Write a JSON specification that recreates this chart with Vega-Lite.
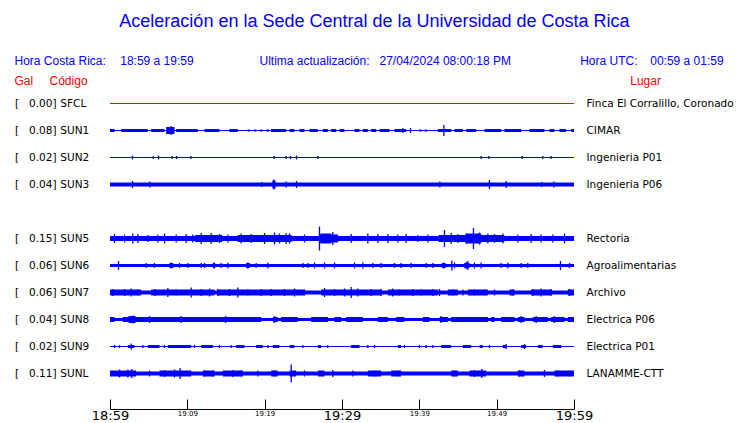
{
  "$schema": "https://vega.github.io/schema/vega-lite/v6.json",
  "width": 464,
  "height": 297,
  "autosize": {"type": "none"},
  "padding": {"left": 110, "top": 90, "right": 166, "bottom": 36},
  "background": "white",
  "config": {"view": {"stroke": null}},
  "datasets": {
    "st": [
      {"s": "SFCL", "g": 0.00, "lugar": "Finca El Corralillo, Coronado"},
      {"s": "SUN1", "g": 0.08, "lugar": "CIMAR"},
      {"s": "SUN2", "g": 0.02, "lugar": "Ingenieria P01"},
      {"s": "SUN3", "g": 0.04, "lugar": "Ingenieria P06"},
      {"s": "SUN5", "g": 0.15, "lugar": "Rectoria"},
      {"s": "SUN6", "g": 0.06, "lugar": "Agroalimentarias"},
      {"s": "SUN7", "g": 0.06, "lugar": "Archivo"},
      {"s": "SUN8", "g": 0.04, "lugar": "Electrica P06"},
      {"s": "SUN9", "g": 0.02, "lugar": "Electrica P01"},
      {"s": "SUNL", "g": 0.11, "lugar": "LANAMME-CTT"}
    ],
    "seg": [
      {"s": "SFCL", "t0": 0, "t1": 60, "a": 1},
      {"s": "SUN1", "t0": 0, "t1": 60, "a": 1},
      {"s": "SUN2", "t0": 0, "t1": 60, "a": 1},
      {"s": "SUN3", "t0": 0, "t1": 60, "a": 4},
      {"s": "SUN5", "t0": 0, "t1": 60, "a": 5},
      {"s": "SUN6", "t0": 0, "t1": 60, "a": 3},
      {"s": "SUN7", "t0": 0, "t1": 60, "a": 4},
      {"s": "SUN8", "t0": 0, "t1": 60, "a": 3},
      {"s": "SUN9", "t0": 0, "t1": 60, "a": 1},
      {"s": "SUNL", "t0": 0, "t1": 60, "a": 4},

      {"s": "SUN1", "t0": 0, "t1": 0.58, "a": 3},
      {"s": "SUN1", "t0": 1.44, "t1": 4.89, "a": 3},
      {"s": "SUN1", "t0": 5.32, "t1": 7.05, "a": 3},
      {"s": "SUN1", "t0": 7.26, "t1": 8.34, "a": 7},
      {"s": "SUN1", "t0": 8.56, "t1": 11.36, "a": 3},
      {"s": "SUN1", "t0": 12.22, "t1": 14.16, "a": 3},
      {"s": "SUN1", "t0": 15.45, "t1": 16.53, "a": 3},
      {"s": "SUN1", "t0": 17.8, "t1": 18.1, "a": 2},
      {"s": "SUN1", "t0": 18.6, "t1": 18.9, "a": 2},
      {"s": "SUN1", "t0": 19.4, "t1": 19.7, "a": 2},
      {"s": "SUN1", "t0": 20.2, "t1": 20.6, "a": 2},
      {"s": "SUN1", "t0": 20.84, "t1": 22.78, "a": 3},
      {"s": "SUN1", "t0": 23.21, "t1": 23.86, "a": 3},
      {"s": "SUN1", "t0": 24.5, "t1": 25.15, "a": 3},
      {"s": "SUN1", "t0": 25.8, "t1": 26.88, "a": 3},
      {"s": "SUN1", "t0": 27.52, "t1": 28.17, "a": 3},
      {"s": "SUN1", "t0": 28.6, "t1": 29.25, "a": 3},
      {"s": "SUN1", "t0": 29.68, "t1": 30.32, "a": 3},
      {"s": "SUN1", "t0": 31.62, "t1": 32.26, "a": 3},
      {"s": "SUN1", "t0": 32.69, "t1": 33.34, "a": 3},
      {"s": "SUN1", "t0": 33.77, "t1": 34.42, "a": 3},
      {"s": "SUN1", "t0": 34.85, "t1": 36.14, "a": 3},
      {"s": "SUN1", "t0": 36.79, "t1": 38.3, "a": 3},
      {"s": "SUN1", "t0": 40.0, "t1": 40.3, "a": 2},
      {"s": "SUN1", "t0": 40.7, "t1": 41.0, "a": 2},
      {"s": "SUN1", "t0": 42.39, "t1": 44.12, "a": 3},
      {"s": "SUN1", "t0": 44.55, "t1": 45.63, "a": 3},
      {"s": "SUN1", "t0": 46.06, "t1": 47.35, "a": 3},
      {"s": "SUN1", "t0": 48.43, "t1": 50.58, "a": 3},
      {"s": "SUN1", "t0": 51.01, "t1": 53.17, "a": 3},
      {"s": "SUN1", "t0": 54.24, "t1": 56.18, "a": 3},
      {"s": "SUN1", "t0": 56.83, "t1": 57.47, "a": 3},
      {"s": "SUN1", "t0": 58.12, "t1": 58.98, "a": 3},
      {"s": "SUN1", "t0": 59.63, "t1": 60, "a": 3},

      {"s": "SUN3", "t0": 21.0, "t1": 21.4, "a": 8},

      {"s": "SUN5", "t0": 11.0, "t1": 14.5, "a": 7},
      {"s": "SUN5", "t0": 16.5, "t1": 23.5, "a": 7},
      {"s": "SUN5", "t0": 27.0, "t1": 29.5, "a": 8},
      {"s": "SUN5", "t0": 27.2, "t1": 28.6, "a": 10},
      {"s": "SUN5", "t0": 42.5, "t1": 51.0, "a": 7},
      {"s": "SUN5", "t0": 46.0, "t1": 48.0, "a": 10},

      {"s": "SUN6", "t0": 7.7, "t1": 8.2, "a": 5},
      {"s": "SUN6", "t0": 13.3, "t1": 13.6, "a": 5},
      {"s": "SUN6", "t0": 17.6, "t1": 18.1, "a": 5},
      {"s": "SUN6", "t0": 42.9, "t1": 43.4, "a": 5},
      {"s": "SUN6", "t0": 45.8, "t1": 46.5, "a": 5},

      {"s": "SUN7", "t0": 0, "t1": 4.03, "a": 6},
      {"s": "SUN7", "t0": 5.32, "t1": 13.51, "a": 6},
      {"s": "SUN7", "t0": 13.94, "t1": 25.15, "a": 6},
      {"s": "SUN7", "t0": 27.31, "t1": 35.06, "a": 6},
      {"s": "SUN7", "t0": 35.93, "t1": 42.39, "a": 6},
      {"s": "SUN7", "t0": 43.69, "t1": 44.98, "a": 6},
      {"s": "SUN7", "t0": 46.27, "t1": 48.86, "a": 6},
      {"s": "SUN7", "t0": 51.66, "t1": 52.31, "a": 6},
      {"s": "SUN7", "t0": 54.46, "t1": 57.04, "a": 6},
      {"s": "SUN7", "t0": 59.2, "t1": 60, "a": 6},

      {"s": "SUN8", "t0": 0, "t1": 0.58, "a": 5},
      {"s": "SUN8", "t0": 1.66, "t1": 9.2, "a": 5},
      {"s": "SUN8", "t0": 2.4, "t1": 3.3, "a": 7},
      {"s": "SUN8", "t0": 9.2, "t1": 16.53, "a": 5},
      {"s": "SUN8", "t0": 16.53, "t1": 19.55, "a": 5},
      {"s": "SUN8", "t0": 21.06, "t1": 21.7, "a": 5},
      {"s": "SUN8", "t0": 22.13, "t1": 24.29, "a": 5},
      {"s": "SUN8", "t0": 26.01, "t1": 28.17, "a": 5},
      {"s": "SUN8", "t0": 29.03, "t1": 29.89, "a": 5},
      {"s": "SUN8", "t0": 30.54, "t1": 32.69, "a": 5},
      {"s": "SUN8", "t0": 34.63, "t1": 35.93, "a": 5},
      {"s": "SUN8", "t0": 37.0, "t1": 38.08, "a": 5},
      {"s": "SUN8", "t0": 40.45, "t1": 41.31, "a": 5},
      {"s": "SUN8", "t0": 42.61, "t1": 43.69, "a": 5},
      {"s": "SUN8", "t0": 44.12, "t1": 48.86, "a": 5},
      {"s": "SUN8", "t0": 49.29, "t1": 49.72, "a": 5},
      {"s": "SUN8", "t0": 50.58, "t1": 52.31, "a": 5},
      {"s": "SUN8", "t0": 52.74, "t1": 53.6, "a": 5},
      {"s": "SUN8", "t0": 54.68, "t1": 56.61, "a": 5},
      {"s": "SUN8", "t0": 57.04, "t1": 58.77, "a": 5},
      {"s": "SUN8", "t0": 59.2, "t1": 60, "a": 5},

      {"s": "SUN9", "t0": 2.31, "t1": 3.17, "a": 3},
      {"s": "SUN9", "t0": 4.89, "t1": 6.4, "a": 3},
      {"s": "SUN9", "t0": 7.48, "t1": 10.5, "a": 3},
      {"s": "SUN9", "t0": 11.79, "t1": 13.3, "a": 3},
      {"s": "SUN9", "t0": 16.31, "t1": 17.39, "a": 3},
      {"s": "SUN9", "t0": 18.9, "t1": 19.76, "a": 3},
      {"s": "SUN9", "t0": 21.06, "t1": 21.92, "a": 3},
      {"s": "SUN9", "t0": 23.21, "t1": 23.86, "a": 3},
      {"s": "SUN9", "t0": 26.88, "t1": 27.31, "a": 3},
      {"s": "SUN9", "t0": 31.19, "t1": 32.26, "a": 3},
      {"s": "SUN9", "t0": 37.22, "t1": 37.65, "a": 3},
      {"s": "SUN9", "t0": 42.82, "t1": 44.12, "a": 3},
      {"s": "SUN9", "t0": 45.63, "t1": 46.71, "a": 3},
      {"s": "SUN9", "t0": 47.78, "t1": 48.21, "a": 3},
      {"s": "SUN9", "t0": 50.8, "t1": 51.23, "a": 3},
      {"s": "SUN9", "t0": 53.17, "t1": 53.82, "a": 3},
      {"s": "SUN9", "t0": 55.32, "t1": 55.97, "a": 3},
      {"s": "SUN9", "t0": 57.26, "t1": 58.34, "a": 3},

      {"s": "SUNL", "t0": 0, "t1": 3.38, "a": 6},
      {"s": "SUNL", "t0": 6.4, "t1": 10.5, "a": 6},
      {"s": "SUNL", "t0": 12.0, "t1": 13.51, "a": 6},
      {"s": "SUNL", "t0": 14.59, "t1": 17.18, "a": 6},
      {"s": "SUNL", "t0": 20.84, "t1": 21.7, "a": 6},
      {"s": "SUNL", "t0": 23.21, "t1": 24.07, "a": 6},
      {"s": "SUNL", "t0": 26.88, "t1": 27.74, "a": 6},
      {"s": "SUNL", "t0": 33.34, "t1": 35.06, "a": 6},
      {"s": "SUNL", "t0": 36.36, "t1": 37.65, "a": 6},
      {"s": "SUNL", "t0": 44.12, "t1": 44.98, "a": 6},
      {"s": "SUNL", "t0": 46.49, "t1": 48.64, "a": 6},
      {"s": "SUNL", "t0": 52.74, "t1": 53.6, "a": 6},
      {"s": "SUNL", "t0": 57.47, "t1": 60, "a": 6}
    ],
    "spk": [
      {"s": "SUN1", "t": 7.9, "a": 9}, {"s": "SUN1", "t": 37.87, "a": 5}, {"s": "SUN1", "t": 38.86, "a": 5}, {"s": "SUN1", "t": 43.17, "a": 11},

      {"s": "SUN2", "t": 2.91, "a": 4}, {"s": "SUN2", "t": 5.58, "a": 3}, {"s": "SUN2", "t": 6.27, "a": 4}, {"s": "SUN2", "t": 8.04, "a": 3},
      {"s": "SUN2", "t": 8.6, "a": 3}, {"s": "SUN2", "t": 10.45, "a": 3}, {"s": "SUN2", "t": 21.23, "a": 3}, {"s": "SUN2", "t": 22.78, "a": 3},
      {"s": "SUN2", "t": 23.34, "a": 3}, {"s": "SUN2", "t": 24.12, "a": 4}, {"s": "SUN2", "t": 26.88, "a": 3}, {"s": "SUN2", "t": 48.0, "a": 3},
      {"s": "SUN2", "t": 48.99, "a": 3}, {"s": "SUN2", "t": 53.3, "a": 3}, {"s": "SUN2", "t": 55.96, "a": 3}, {"s": "SUN2", "t": 57.04, "a": 3},

      {"s": "SUN3", "t": 2.91, "a": 7}, {"s": "SUN3", "t": 5.15, "a": 6}, {"s": "SUN3", "t": 19.63, "a": 5}, {"s": "SUN3", "t": 21.19, "a": 10},
      {"s": "SUN3", "t": 22.78, "a": 6}, {"s": "SUN3", "t": 24.12, "a": 7}, {"s": "SUN3", "t": 42.65, "a": 6}, {"s": "SUN3", "t": 49.07, "a": 9},
      {"s": "SUN3", "t": 51.23, "a": 7}, {"s": "SUN3", "t": 55.84, "a": 5}, {"s": "SUN3", "t": 57.39, "a": 6},

      {"s": "SUN5", "t": 0.58, "a": 9}, {"s": "SUN5", "t": 1.88, "a": 8}, {"s": "SUN5", "t": 2.95, "a": 10}, {"s": "SUN5", "t": 3.6, "a": 9},
      {"s": "SUN5", "t": 4.89, "a": 7}, {"s": "SUN5", "t": 6.19, "a": 8}, {"s": "SUN5", "t": 7.05, "a": 10}, {"s": "SUN5", "t": 8.56, "a": 8},
      {"s": "SUN5", "t": 9.85, "a": 9}, {"s": "SUN5", "t": 10.71, "a": 8}, {"s": "SUN5", "t": 11.79, "a": 11}, {"s": "SUN5", "t": 13.08, "a": 11},
      {"s": "SUN5", "t": 14.16, "a": 9}, {"s": "SUN5", "t": 15.24, "a": 8}, {"s": "SUN5", "t": 16.96, "a": 10}, {"s": "SUN5", "t": 18.25, "a": 9},
      {"s": "SUN5", "t": 19.98, "a": 11}, {"s": "SUN5", "t": 21.27, "a": 12}, {"s": "SUN5", "t": 21.92, "a": 10}, {"s": "SUN5", "t": 22.78, "a": 11},
      {"s": "SUN5", "t": 23.21, "a": 10}, {"s": "SUN5", "t": 25.15, "a": 8}, {"s": "SUN5", "t": 27.09, "a": 24}, {"s": "SUN5", "t": 28.81, "a": 13},
      {"s": "SUN5", "t": 31.19, "a": 9}, {"s": "SUN5", "t": 33.34, "a": 10}, {"s": "SUN5", "t": 34.63, "a": 9}, {"s": "SUN5", "t": 35.93, "a": 9},
      {"s": "SUN5", "t": 37.22, "a": 8}, {"s": "SUN5", "t": 38.3, "a": 9}, {"s": "SUN5", "t": 39.81, "a": 7}, {"s": "SUN5", "t": 41.1, "a": 8},
      {"s": "SUN5", "t": 43.25, "a": 17}, {"s": "SUN5", "t": 44.12, "a": 11}, {"s": "SUN5", "t": 44.98, "a": 9}, {"s": "SUN5", "t": 46.06, "a": 10},
      {"s": "SUN5", "t": 47.0, "a": 21}, {"s": "SUN5", "t": 47.78, "a": 12}, {"s": "SUN5", "t": 48.86, "a": 10}, {"s": "SUN5", "t": 49.72, "a": 9},
      {"s": "SUN5", "t": 50.8, "a": 10}, {"s": "SUN5", "t": 52.74, "a": 8}, {"s": "SUN5", "t": 54.46, "a": 9}, {"s": "SUN5", "t": 55.75, "a": 8},
      {"s": "SUN5", "t": 57.26, "a": 8}, {"s": "SUN5", "t": 58.77, "a": 10},

      {"s": "SUN6", "t": 1.1, "a": 9}, {"s": "SUN6", "t": 4.68, "a": 5}, {"s": "SUN6", "t": 5.75, "a": 5}, {"s": "SUN6", "t": 7.91, "a": 6},
      {"s": "SUN6", "t": 8.99, "a": 5}, {"s": "SUN6", "t": 10.06, "a": 5}, {"s": "SUN6", "t": 11.79, "a": 5}, {"s": "SUN6", "t": 12.22, "a": 5},
      {"s": "SUN6", "t": 13.43, "a": 6}, {"s": "SUN6", "t": 14.37, "a": 5}, {"s": "SUN6", "t": 15.24, "a": 6}, {"s": "SUN6", "t": 17.82, "a": 6},
      {"s": "SUN6", "t": 18.9, "a": 5}, {"s": "SUN6", "t": 20.41, "a": 6}, {"s": "SUN6", "t": 24.94, "a": 5}, {"s": "SUN6", "t": 25.58, "a": 5},
      {"s": "SUN6", "t": 26.45, "a": 6}, {"s": "SUN6", "t": 27.74, "a": 6}, {"s": "SUN6", "t": 29.03, "a": 6}, {"s": "SUN6", "t": 31.62, "a": 6},
      {"s": "SUN6", "t": 32.69, "a": 6}, {"s": "SUN6", "t": 33.98, "a": 5}, {"s": "SUN6", "t": 35.06, "a": 5}, {"s": "SUN6", "t": 36.79, "a": 5},
      {"s": "SUN6", "t": 37.65, "a": 5}, {"s": "SUN6", "t": 38.94, "a": 5}, {"s": "SUN6", "t": 40.88, "a": 5}, {"s": "SUN6", "t": 41.75, "a": 5},
      {"s": "SUN6", "t": 43.17, "a": 6}, {"s": "SUN6", "t": 44.2, "a": 10}, {"s": "SUN6", "t": 44.55, "a": 6}, {"s": "SUN6", "t": 46.06, "a": 7},
      {"s": "SUN6", "t": 46.27, "a": 9}, {"s": "SUN6", "t": 47.13, "a": 6}, {"s": "SUN6", "t": 47.99, "a": 6}, {"s": "SUN6", "t": 50.58, "a": 5},
      {"s": "SUN6", "t": 51.44, "a": 6}, {"s": "SUN6", "t": 53.17, "a": 5}, {"s": "SUN6", "t": 54.03, "a": 5}, {"s": "SUN6", "t": 58.25, "a": 9},
      {"s": "SUN6", "t": 59.42, "a": 5},

      {"s": "SUN7", "t": 0.37, "a": 7}, {"s": "SUN7", "t": 1.88, "a": 7}, {"s": "SUN7", "t": 2.74, "a": 8}, {"s": "SUN7", "t": 3.6, "a": 6},
      {"s": "SUN7", "t": 5.84, "a": 7}, {"s": "SUN7", "t": 7.48, "a": 9}, {"s": "SUN7", "t": 8.56, "a": 6}, {"s": "SUN7", "t": 10.5, "a": 10},
      {"s": "SUN7", "t": 11.79, "a": 7}, {"s": "SUN7", "t": 12.87, "a": 8}, {"s": "SUN7", "t": 13.94, "a": 7}, {"s": "SUN7", "t": 15.45, "a": 7},
      {"s": "SUN7", "t": 16.53, "a": 10}, {"s": "SUN7", "t": 17.82, "a": 6}, {"s": "SUN7", "t": 19.55, "a": 7}, {"s": "SUN7", "t": 20.84, "a": 7},
      {"s": "SUN7", "t": 22.56, "a": 7}, {"s": "SUN7", "t": 23.86, "a": 8}, {"s": "SUN7", "t": 25.15, "a": 6}, {"s": "SUN7", "t": 27.74, "a": 9},
      {"s": "SUN7", "t": 29.03, "a": 7}, {"s": "SUN7", "t": 30.32, "a": 8}, {"s": "SUN7", "t": 31.19, "a": 11}, {"s": "SUN7", "t": 32.05, "a": 8},
      {"s": "SUN7", "t": 33.77, "a": 7}, {"s": "SUN7", "t": 35.06, "a": 7}, {"s": "SUN7", "t": 36.57, "a": 8}, {"s": "SUN7", "t": 37.44, "a": 6},
      {"s": "SUN7", "t": 39.16, "a": 7}, {"s": "SUN7", "t": 40.24, "a": 6}, {"s": "SUN7", "t": 41.75, "a": 7}, {"s": "SUN7", "t": 42.61, "a": 7},
      {"s": "SUN7", "t": 44.33, "a": 6}, {"s": "SUN7", "t": 45.63, "a": 6}, {"s": "SUN7", "t": 47.13, "a": 6}, {"s": "SUN7", "t": 48.43, "a": 6},
      {"s": "SUN7", "t": 49.72, "a": 6}, {"s": "SUN7", "t": 52.09, "a": 6}, {"s": "SUN7", "t": 54.68, "a": 7}, {"s": "SUN7", "t": 55.75, "a": 8},
      {"s": "SUN7", "t": 57.04, "a": 7}, {"s": "SUN7", "t": 59.42, "a": 7},

      {"s": "SUN8", "t": 2.95, "a": 8}, {"s": "SUN8", "t": 5.11, "a": 7}, {"s": "SUN8", "t": 9.2, "a": 7}, {"s": "SUN8", "t": 14.94, "a": 7},
      {"s": "SUN8", "t": 21.27, "a": 7}, {"s": "SUN8", "t": 42.82, "a": 7}, {"s": "SUN8", "t": 53.17, "a": 7}, {"s": "SUN8", "t": 55.11, "a": 7},
      {"s": "SUN8", "t": 57.47, "a": 7},

      {"s": "SUN9", "t": 0.58, "a": 3}, {"s": "SUN9", "t": 1.23, "a": 3}, {"s": "SUN9", "t": 2.74, "a": 6}, {"s": "SUN9", "t": 4.25, "a": 3},
      {"s": "SUN9", "t": 7.05, "a": 3}, {"s": "SUN9", "t": 10.93, "a": 3}, {"s": "SUN9", "t": 14.16, "a": 3}, {"s": "SUN9", "t": 15.67, "a": 3},
      {"s": "SUN9", "t": 20.41, "a": 3}, {"s": "SUN9", "t": 24.94, "a": 3}, {"s": "SUN9", "t": 28.17, "a": 3}, {"s": "SUN9", "t": 33.34, "a": 3},
      {"s": "SUN9", "t": 34.2, "a": 3}, {"s": "SUN9", "t": 38.08, "a": 3}, {"s": "SUN9", "t": 40.02, "a": 3}, {"s": "SUN9", "t": 40.88, "a": 3},
      {"s": "SUN9", "t": 41.75, "a": 3}, {"s": "SUN9", "t": 49.07, "a": 3}, {"s": "SUN9", "t": 51.23, "a": 5}, {"s": "SUN9", "t": 53.6, "a": 5},

      {"s": "SUNL", "t": 1.23, "a": 8}, {"s": "SUNL", "t": 2.31, "a": 8}, {"s": "SUNL", "t": 2.82, "a": 9}, {"s": "SUNL", "t": 5.11, "a": 6},
      {"s": "SUNL", "t": 7.05, "a": 7}, {"s": "SUNL", "t": 8.34, "a": 8}, {"s": "SUNL", "t": 9.07, "a": 11}, {"s": "SUNL", "t": 12.22, "a": 6},
      {"s": "SUNL", "t": 13.3, "a": 6}, {"s": "SUNL", "t": 15.88, "a": 7}, {"s": "SUNL", "t": 16.96, "a": 6}, {"s": "SUNL", "t": 19.12, "a": 6},
      {"s": "SUNL", "t": 21.27, "a": 6}, {"s": "SUNL", "t": 23.43, "a": 18}, {"s": "SUNL", "t": 25.15, "a": 6}, {"s": "SUNL", "t": 28.81, "a": 7},
      {"s": "SUNL", "t": 31.4, "a": 6}, {"s": "SUNL", "t": 34.2, "a": 6}, {"s": "SUNL", "t": 37.22, "a": 6}, {"s": "SUNL", "t": 44.55, "a": 6},
      {"s": "SUNL", "t": 47.13, "a": 7}, {"s": "SUNL", "t": 48.08, "a": 9}, {"s": "SUNL", "t": 52.95, "a": 6}, {"s": "SUNL", "t": 56.18, "a": 7},
      {"s": "SUNL", "t": 57.9, "a": 6}, {"s": "SUNL", "t": 59.42, "a": 6}
    ]
  },
  "layer": [
    {
      "data": {"name": "seg"},
      "mark": {"type": "bar"},
      "encoding": {
        "x": {
          "field": "t0", "type": "quantitative",
          "scale": {"domain": [0, 60], "nice": false, "zero": false},
          "axis": {
            "title": null, "grid": false, "offset": 22,
            "values": [0, 5, 10, 15, 20, 25, 30, 35, 40, 45, 50, 55, 60],
            "labelExpr": "datum.value % 10 === 0 ? (floor((1139 + datum.value) / 60) + ':' + (((1139 + datum.value) % 60) < 10 ? '0' : '') + ((1139 + datum.value) % 60)) : ''",
            "labelFont": "DejaVu Sans",
            "labelFontSize": {"condition": {"test": "datum.value % 30 === 0", "value": 13}, "value": 7},
            "labelColor": "black", "labelBaseline": "top", "labelPadding": 10,
            "labelFlush": false, "labelOverlap": false, "labelBound": false,
            "domainColor": "black", "tickColor": "black", "tickSize": -10, "tickWidth": 1, "domainWidth": 1
          }
        },
        "x2": {"field": "t1"},
        "y": {
          "field": "s", "type": "nominal",
          "scale": {"domain": ["SFCL", "SUN1", "SUN2", "SUN3", "SUN4", "SUN5", "SUN6", "SUN7", "SUN8", "SUN9", "SUNL"], "paddingInner": 0, "paddingOuter": 0},
          "axis": null
        },
        "size": {"field": "a", "type": "quantitative", "scale": {"domain": [0, 30], "range": [0, 30]}, "legend": null},
        "color": {"condition": {"test": "datum.s === 'SFCL'", "value": "#ff0000"}, "value": "#0000ff"}
      }
    },
    {
      "data": {"name": "spk"},
      "mark": {"type": "tick", "thickness": 1.3, "color": "#0000ff", "opacity": 1},
      "encoding": {
        "x": {"field": "t", "type": "quantitative"},
        "y": {"field": "s", "type": "nominal"},
        "size": {"field": "a", "type": "quantitative", "legend": null}
      }
    },
    {
      "data": {"name": "st"},
      "mark": {"type": "text", "align": "left", "baseline": "middle", "font": "DejaVu Sans", "fontSize": 10.5, "color": "black"},
      "encoding": {"x": {"datum": -12.3}, "y": {"field": "s", "type": "nominal"}, "text": {"value": "["}}
    },
    {
      "data": {"name": "st"},
      "mark": {"type": "text", "align": "right", "baseline": "middle", "font": "DejaVu Sans", "fontSize": 10.5, "color": "black"},
      "encoding": {"x": {"datum": -7.44}, "y": {"field": "s", "type": "nominal"}, "text": {"field": "g", "type": "quantitative", "format": ".2f"}}
    },
    {
      "data": {"name": "st"},
      "mark": {"type": "text", "align": "left", "baseline": "middle", "font": "DejaVu Sans", "fontSize": 10.5, "color": "black"},
      "encoding": {"x": {"datum": -7.44}, "y": {"field": "s", "type": "nominal"}, "text": {"value": "]"}}
    },
    {
      "data": {"name": "st"},
      "mark": {"type": "text", "align": "left", "baseline": "middle", "font": "DejaVu Sans", "fontSize": 10.5, "color": "black"},
      "encoding": {"x": {"datum": -6.42}, "y": {"field": "s", "type": "nominal"}, "text": {"field": "s", "type": "nominal"}}
    },
    {
      "data": {"name": "st"},
      "mark": {"type": "text", "align": "left", "baseline": "middle", "font": "DejaVu Sans", "fontSize": 10.5, "color": "black"},
      "encoding": {"x": {"datum": 61.62}, "y": {"field": "s", "type": "nominal"}, "text": {"field": "lugar", "type": "nominal"}}
    },
    {
      "data": {"values": [{}]},
      "mark": {"type": "text", "align": "center", "baseline": "middle", "font": "Liberation Sans", "fontSize": 18, "color": "#0000ff", "dy": -81.5},
      "encoding": {"x": {"datum": 34.2}, "y": {"datum": "SFCL"}, "text": {"value": "Aceleración en la Sede Central de la Universidad de Costa Rica"}}
    },
    {
      "data": {"values": [{}]},
      "mark": {"type": "text", "align": "left", "baseline": "middle", "font": "Liberation Sans", "fontSize": 12, "color": "#0000ff", "dy": -42.5},
      "encoding": {"x": {"datum": -12.35}, "y": {"datum": "SFCL"}, "text": {"value": "Hora Costa Rica:"}}
    },
    {
      "data": {"values": [{}]},
      "mark": {"type": "text", "align": "left", "baseline": "middle", "font": "Liberation Sans", "fontSize": 12, "color": "#0000ff", "dy": -42.5},
      "encoding": {"x": {"datum": 1.32}, "y": {"datum": "SFCL"}, "text": {"value": "18:59 a 19:59"}}
    },
    {
      "data": {"values": [{}]},
      "mark": {"type": "text", "align": "left", "baseline": "middle", "font": "Liberation Sans", "fontSize": 12, "color": "#0000ff", "dy": -42.5},
      "encoding": {"x": {"datum": 19.33}, "y": {"datum": "SFCL"}, "text": {"value": "Ultima actualización:"}}
    },
    {
      "data": {"values": [{}]},
      "mark": {"type": "text", "align": "left", "baseline": "middle", "font": "Liberation Sans", "fontSize": 12, "color": "#0000ff", "dy": -42.5},
      "encoding": {"x": {"datum": 34.85}, "y": {"datum": "SFCL"}, "text": {"value": "27/04/2024 08:00:18 PM"}}
    },
    {
      "data": {"values": [{}]},
      "mark": {"type": "text", "align": "left", "baseline": "middle", "font": "Liberation Sans", "fontSize": 12, "color": "#0000ff", "dy": -42.5},
      "encoding": {"x": {"datum": 60.8}, "y": {"datum": "SFCL"}, "text": {"value": "Hora UTC:"}}
    },
    {
      "data": {"values": [{}]},
      "mark": {"type": "text", "align": "left", "baseline": "middle", "font": "Liberation Sans", "fontSize": 12, "color": "#0000ff", "dy": -42.5},
      "encoding": {"x": {"datum": 69.86}, "y": {"datum": "SFCL"}, "text": {"value": "00:59 a 01:59"}}
    },
    {
      "data": {"values": [{}]},
      "mark": {"type": "text", "align": "left", "baseline": "middle", "font": "Liberation Sans", "fontSize": 12, "color": "#ff0000", "dy": -23},
      "encoding": {"x": {"datum": -12.35}, "y": {"datum": "SFCL"}, "text": {"value": "Gal"}}
    },
    {
      "data": {"values": [{}]},
      "mark": {"type": "text", "align": "left", "baseline": "middle", "font": "Liberation Sans", "fontSize": 12, "color": "#ff0000", "dy": -23},
      "encoding": {"x": {"datum": -7.82}, "y": {"datum": "SFCL"}, "text": {"value": "Código"}}
    },
    {
      "data": {"values": [{}]},
      "mark": {"type": "text", "align": "left", "baseline": "middle", "font": "Liberation Sans", "fontSize": 12, "color": "#ff0000", "dy": -23},
      "encoding": {"x": {"datum": 67.27}, "y": {"datum": "SFCL"}, "text": {"value": "Lugar"}}
    }
  ]
}
